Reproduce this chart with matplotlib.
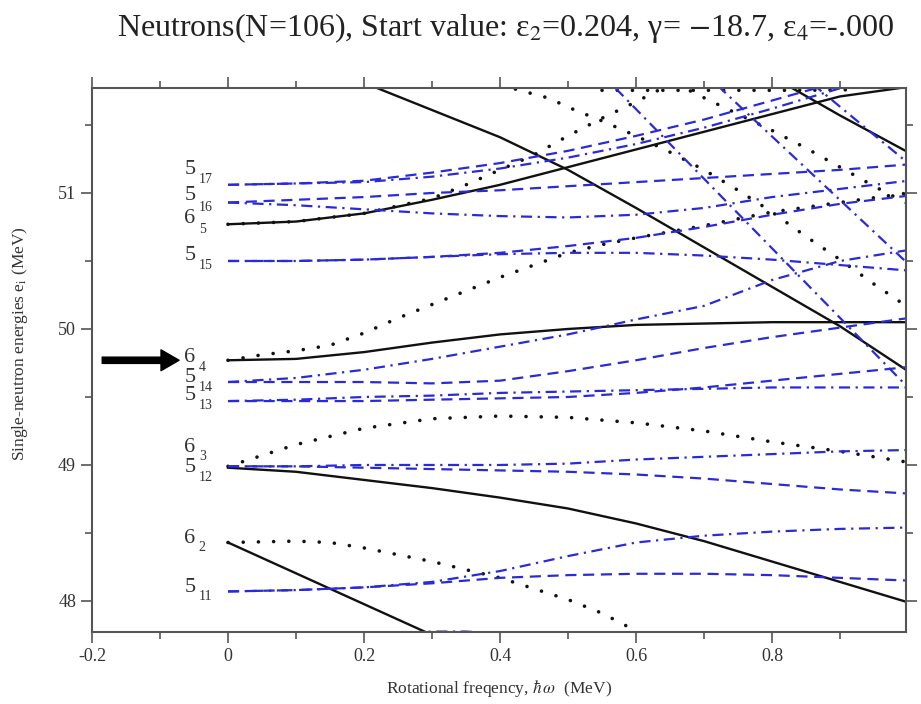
import numpy as np
import matplotlib
matplotlib.use('Agg')
import matplotlib.pyplot as plt

plt.rcParams['font.family'] = ['Liberation Serif', 'DejaVu Serif']
plt.rcParams['mathtext.fontset'] = 'stix'
plt.rcParams['axes.unicode_minus'] = False

# ---- data ----
x11 = [0.0, 0.1, 0.2, 0.3, 0.4, 0.5, 0.6, 0.7, 0.8, 0.9, 1.0]

# black solid levels
s65_y = [50.77, 50.79, 50.85, 50.95, 51.06, 51.19, 51.32, 51.45, 51.58, 51.71, 51.78]
sdn1_x = [0.15, 0.22, 0.3, 0.4, 0.5, 0.6, 0.7, 0.8, 0.9, 1.0]
sdn1_y = [51.93, 51.77, 51.61, 51.41, 51.17, 50.89, 50.60, 50.31, 50.02, 49.69]
sdn2_x = [0.78, 0.83, 0.9, 1.0]
sdn2_y = [51.93, 51.77, 51.57, 51.30]
s64_y = [49.77, 49.78, 49.83, 49.90, 49.96, 50.00, 50.03, 50.04, 50.05, 50.05, 50.05]
s512_y = [48.98, 48.95, 48.89, 48.83, 48.76, 48.68, 48.57, 48.44, 48.29, 48.14, 47.99]
s62_x = [0.0, 0.3]
s62_y = [48.43, 47.75]

# black dotted levels
d64_x = [0.0, 0.05, 0.1, 0.15, 0.2, 0.25, 0.3, 0.35, 0.4, 0.45, 0.5, 0.55, 0.6, 0.7, 0.8, 0.9, 1.0]
d64_y = [49.77, 49.81, 49.84, 49.88, 49.97, 50.08, 50.18, 50.28, 50.38, 50.47, 50.56, 50.62, 50.67, 50.76, 50.86, 50.93, 51.0]
d65_x = [0.0, 0.1, 0.2, 0.3, 0.35, 0.4, 0.45, 0.5, 0.55, 0.6, 0.65]
d65_y = [50.77, 50.79, 50.85, 50.96, 51.06, 51.17, 51.28, 51.42, 51.55, 51.67, 51.80]
d2_x = [0.38, 0.425, 0.47, 0.51, 0.55, 0.6, 0.65, 0.7, 0.75, 0.8, 0.85, 0.9, 0.95, 1.0]
d2_y = [51.83, 51.76, 51.70, 51.61, 51.53, 51.42, 51.30, 51.17, 51.02, 50.86, 50.68, 50.51, 50.33, 50.16]
d3_x = [0.66, 0.7, 0.75, 0.8, 0.85, 0.9, 0.95, 1.0]
d3_y = [51.80, 51.70, 51.58, 51.46, 51.33, 51.19, 51.05, 50.92]
dtop_x = [0.55, 0.65, 0.75, 0.85, 0.93]
dtop_y = [51.755, 51.755, 51.755, 51.755, 51.76]
d63_y = [48.99, 49.15, 49.27, 49.34, 49.36, 49.35, 49.31, 49.25, 49.17, 49.10, 49.02]
d62_x = [0.0, 0.1, 0.15, 0.2, 0.25, 0.3, 0.35, 0.4, 0.45, 0.5, 0.55, 0.6]
d62_y = [48.43, 48.44, 48.43, 48.39, 48.34, 48.29, 48.23, 48.17, 48.09, 48.01, 47.91, 47.78]

# blue levels (dashed / dash-dot signature partners)
b17a = [51.06, 51.07, 51.09, 51.15, 51.22, 51.31, 51.42, 51.54, 51.68, 51.82, 51.96]
b17b = [51.06, 51.07, 51.08, 51.12, 51.18, 51.26, 51.36, 51.48, 51.62, 51.77, 51.92]
b16a = [50.93, 50.95, 50.97, 51.00, 51.02, 51.05, 51.08, 51.11, 51.14, 51.17, 51.21]
b16b = [50.93, 50.91, 50.88, 50.85, 50.83, 50.82, 50.84, 50.89, 50.97, 51.03, 51.09]
b15a = [50.50, 50.50, 50.51, 50.53, 50.56, 50.61, 50.67, 50.75, 50.84, 50.92, 50.98]
b15b = [50.50, 50.50, 50.51, 50.53, 50.55, 50.56, 50.56, 50.54, 50.51, 50.47, 50.43]
b14a = [49.61, 49.61, 49.61, 49.60, 49.62, 49.69, 49.77, 49.86, 49.94, 50.01, 50.08]
b14b = [49.61, 49.64, 49.70, 49.78, 49.87, 49.96, 50.07, 50.17, 50.36, 50.50, 50.58]
b13a = [49.47, 49.47, 49.47, 49.48, 49.49, 49.50, 49.53, 49.57, 49.62, 49.67, 49.72]
b13b = [49.47, 49.48, 49.50, 49.51, 49.53, 49.54, 49.55, 49.56, 49.57, 49.57, 49.57]
b12a = [48.99, 48.99, 49.00, 49.00, 49.00, 49.01, 49.04, 49.06, 49.08, 49.10, 49.11]
b12b = [48.99, 48.99, 48.98, 48.97, 48.96, 48.95, 48.93, 48.90, 48.86, 48.82, 48.79]
b11a = [48.07, 48.08, 48.10, 48.14, 48.22, 48.33, 48.43, 48.48, 48.51, 48.53, 48.54]
b11b = [48.07, 48.08, 48.10, 48.13, 48.17, 48.19, 48.20, 48.20, 48.19, 48.17, 48.15]
# steep blue dash-dot intruders
ba_x, ba_y = [0.72, 1.0], [51.79, 50.48]
bb_x, bb_y = [0.57, 1.0], [51.77, 49.57]
bc_x, bc_y = [0.86, 1.0], [51.80, 51.22]
bbot_x = [0.2, 0.25, 0.3, 0.35, 0.4, 0.43]
bbot_y = [47.70, 47.76, 47.775, 47.775, 47.76, 47.70]

# level labels
lab_main = ['5', '5', '6', '5', '6', '5', '5', '6', '5', '6', '5']
lab_sub = ['17', '16', '5', '15', '4', '14', '13', '3', '12', '2', '11']
lab_y = [51.17, 50.985, 50.81, 50.54, 49.79, 49.64, 49.51, 49.125, 48.985, 48.46, 48.10]
sub_y = [51.10, 50.89, 50.73, 50.47, 49.72, 49.57, 49.44, 49.06, 48.91, 48.39, 48.03]

# ---- plot ----
fig = plt.figure(figsize=(9.21, 7.04), dpi=100)
ax = fig.add_axes([0.0999, 0.1023, 0.8838, 0.7727])

blue = '#2a2ad8'
blk = '#111111'
dash = (0, (5, 3))
dashdot = (0, (5, 2.5, 1, 2.5))
dots = (0, (0.01, 4.2))

def solid(x, y):
    ax.plot(x, y, color=blk, lw=1.7)

def dotted(x, y):
    ax.plot(x, y, color=blk, lw=2.6, linestyle=dots, dash_capstyle='round')

solid(x11, s65_y)
solid(sdn1_x, sdn1_y)
solid(sdn2_x, sdn2_y)
solid(x11, s64_y)
solid(x11, s512_y)
solid(s62_x, s62_y)

dotted(d64_x, d64_y)
dotted(d65_x, d65_y)
dotted(d2_x, d2_y)
dotted(d3_x, d3_y)
dotted(dtop_x, dtop_y)
dotted(x11, d63_y)
dotted(d62_x, d62_y)

for ya in [b17a, b16a, b15a, b14a, b13a, b12b, b11b]:
    ax.plot(x11, ya, color=blue, lw=1.6, linestyle=dash)
for yb in [b17b, b16b, b15b, b14b, b13b, b12a, b11a]:
    ax.plot(x11, yb, color=blue, lw=1.6, linestyle=dashdot)
for xs, ys in [(ba_x, ba_y), (bb_x, bb_y), (bc_x, bc_y), (bbot_x, bbot_y)]:
    ax.plot(xs, ys, color=blue, lw=1.6, linestyle=dashdot)

for m, s, y1, y2 in zip(lab_main, lab_sub, lab_y, sub_y):
    ax.text(-0.056, y1, m, fontsize=16, color='#333333', ha='center', va='center')
    ax.text(-0.043, y2, s, fontsize=10, color='#333333', ha='left', va='center')

ax.annotate('', xy=(-0.072, 49.77), xytext=(-0.185, 49.77),
            arrowprops=dict(facecolor='black', edgecolor='black', width=4.5,
                            headwidth=15, headlength=13, shrink=0),
            annotation_clip=False)

ax.set_xlim(-0.2, 0.997)
ax.set_ylim(47.772, 51.772)
ax.set_xticks([-0.2, 0, 0.2, 0.4, 0.6, 0.8])
ax.set_xticklabels(['-0.2', '0', '0.2', '0.4', '0.6', '0.8'])
ax.set_xticks(np.arange(-0.1, 1.0, 0.2), minor=True)
ax.set_yticks([48, 49, 50, 51])
ax.set_yticks([48.5, 49.5, 50.5, 51.5], minor=True)
ax.tick_params(which='both', direction='out', top=True, right=True,
               color='#555555', width=1.2, labelsize=13, labelcolor='#333333')
ax.tick_params(which='major', length=8)
ax.tick_params(which='minor', length=5)
for sp in ax.spines.values():
    sp.set_color('#555555')
    sp.set_linewidth(1.5)

ax.set_xlabel(r'Rotational freqency, $\hbar\,\omega$  (MeV)', fontsize=12.5, color='#333333')
ax.xaxis.set_label_coords(0.5, -0.085)
ax.set_ylabel(r'Single-neutron energies e$_{\rm i}$ (MeV)', fontsize=12.5, color='#333333')
ax.yaxis.set_label_coords(-0.076, 0.53)

fig.text(0.549, 0.96, 'Neutrons(N=106), Start value: ε$_2$=0.204, γ= $-$18.7, ε$_4$=-.000',
         fontsize=23, ha='center', va='center', color='#222222')

fig.savefig('out.png', dpi=100)
